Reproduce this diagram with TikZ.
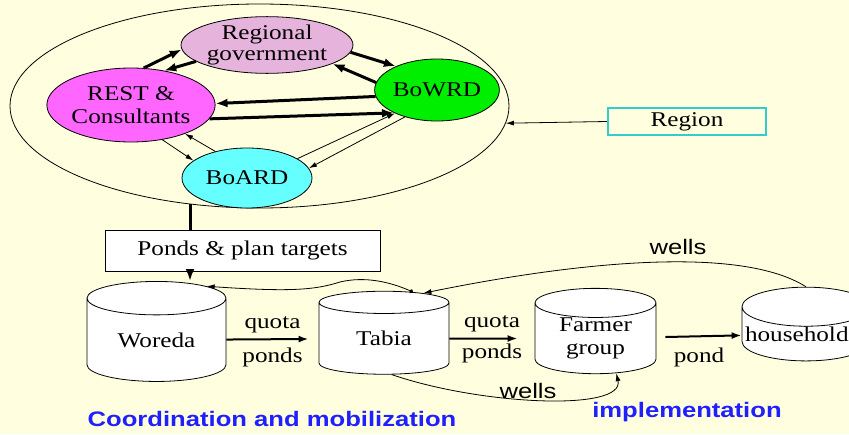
\documentclass[tikz,border=0pt]{standalone}
\usepackage{fontspec}
\setmainfont{Liberation Serif}[FakeStretch=1.2]
\setsansfont{Liberation Sans}[FakeStretch=1.22]
\usetikzlibrary{arrows.meta,positioning,shapes.geometric}
\definecolor{slidebg}{HTML}{FFFFDF}
\definecolor{govpink}{HTML}{E6B3DD}
\definecolor{restpink}{HTML}{FF66FF}
\definecolor{wrdgreen}{HTML}{00EE00}
\definecolor{ardcyan}{HTML}{66FFFF}
\definecolor{regcyan}{HTML}{33CCCC}
\definecolor{labelblue}{HTML}{1F1FFF}

\begin{document}
\begin{tikzpicture}[
    x=1pt, y=-1pt,
    every node/.style={font=\fontsize{21}{23}\selectfont},
    office/.style={ellipse, draw, line width=0.8pt, inner sep=0pt, align=center},
    store/.style={cylinder, shape border rotate=90, draw, line width=0.8pt, fill=white, aspect=0.4, inner sep=0pt, align=center},
    box/.style={rectangle, draw, fill=white, inner sep=0pt},
    heavy/.style={-{Latex[length=12pt,width=9pt]}, line width=3pt},
    flow/.style={-{Latex[length=10pt,width=7pt]}, line width=2pt},
    light/.style={-{Latex[length=8pt,width=5pt]}, line width=0.8pt},
    tag/.style={font=\sffamily\fontsize{21}{23}\selectfont},
    stage/.style={font=\sffamily\bfseries\fontsize{21}{23}\selectfont, text=labelblue}
  ]
    \fill[slidebg] (0,0) rectangle (849,434);
    \useasboundingbox (0,0) rectangle (849,434);

    \node[office, minimum width=499pt, minimum height=204pt] (region) at (259.5,106) {};
    \node[office, fill=govpink, minimum width=172pt, minimum height=54pt] (gov) at (267,45) {Regional\\[-2pt]government};
    \node[office, fill=restpink, minimum width=142pt, minimum height=74pt] (rest) at (131,105) {REST \&\\Consultants};
    \node[office, fill=wrdgreen, minimum width=124pt, minimum height=62pt] (bowrd) at (437,90) {BoWRD};
    \node[office, fill=ardcyan, minimum width=130pt, minimum height=60pt] (board) at (247,178) {BoARD};

    \draw[heavy] (rest.71) -- (gov.183);
    \draw[heavy] (gov.193) -- (rest.46);
    \draw[heavy] (gov.355) -- (bowrd.150);
    \draw[heavy] (bowrd.173) -- (gov.344);
    \draw[heavy] (bowrd.186) -- (rest.1);
    \draw[heavy] (rest.350) -- (bowrd.208);
    \draw[light] (board.140) -- (rest.332);
    \draw[light] (rest.312) -- (board.162);
    \draw[light] (board.21) -- (bowrd.209);
    \draw[light] (bowrd.220) -- (board.9);

    \node[box, draw=regcyan, line width=2.5pt, fill=none, minimum width=158pt, minimum height=27pt] (regionbox) at (687,121.5) {Region};
    \draw[light] (regionbox.west) -- (region.-4);

    \node[box, minimum width=275pt, minimum height=41pt] (targets) at (242.5,250.5) {Ponds \& plan targets};

    \node[store, minimum width=139pt, minimum height=100pt, aspect=0.43] (woreda) at (156.5,340) {Woreda};
    \node[store, minimum width=130pt, minimum height=83pt] (tabia) at (384,338.5) {Tabia};
    \node[store, minimum width=121pt, minimum height=83pt] (farmer) at (595.5,338.5) {Farmer\\group};
    \node[store, minimum width=128pt, minimum height=72pt, aspect=0.32, text width=122pt, align=left] (household) at (806,334) {household};

    \coordinate (link) at (190,204);
    \draw[line width=3pt] (link) -- (link |- targets.north);
    \draw[heavy] (link |- targets.south) -- (link |- woreda.north);

    \draw[flow, shorten >=10pt] (woreda) -- (tabia)
      node[midway, above=2pt] (quota1) {quota}
      node[midway, below=4pt] (ponds1) {ponds};
    \draw[flow, shorten >=17pt] (tabia) -- (farmer)
      node[midway, above=2pt] (quota2) {quota}
      node[midway, below=1pt] (ponds2) {ponds};
    \draw[flow, shorten <=9pt] (farmer) -- (household)
      node[midway, below=7pt] (pond3) {pond};

    \draw[light] (household.north) .. controls (740,245) and (576,262) .. (tabia.49);
    \draw[{Circle[length=4pt]}-{Latex[length=8pt,width=5pt]}, line width=0.8pt] (tabia.58) .. controls (390,282) and (365,276) .. (340,282)
      .. controls (315,290) and (290,292) .. (woreda.47);
    \draw[light] (tabia.282) .. controls (480,405) and (625,412) .. (farmer.301);

    \node[tag] (wellstop) at (678,247) {wells};
    \node[tag] (wellsbottom) at (528,391) {wells};

    \node[stage] (coord) at (272,419) {Coordination and mobilization};
    \node[stage] (impl) at (687,412) {implementation};
  \end{tikzpicture}
\end{document}
